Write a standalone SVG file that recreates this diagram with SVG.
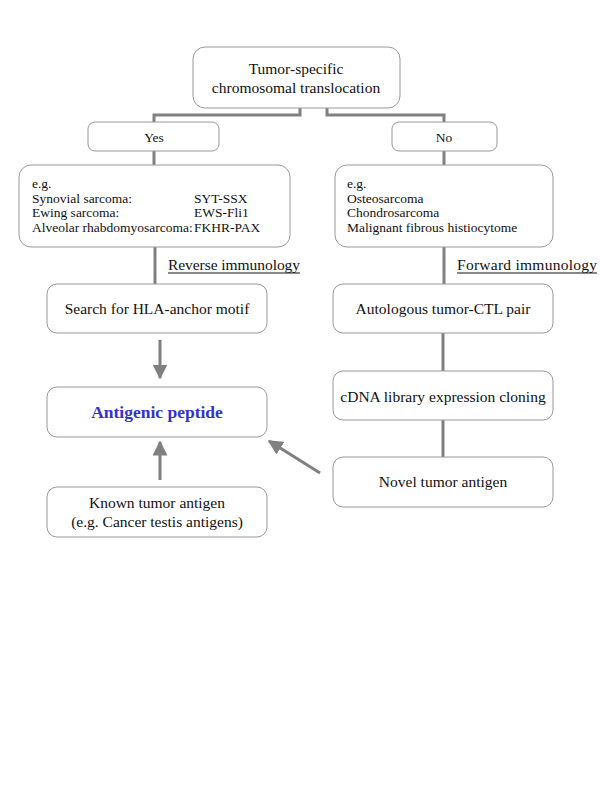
<svg xmlns="http://www.w3.org/2000/svg" width="600" height="800" viewBox="0 0 600 800">
<defs>
<style>
.box{fill:#fff;stroke:#999;stroke-width:1}
.t{font-family:"Liberation Serif","Times New Roman",serif;font-size:15.5px;fill:#111}
.s{font-family:"Liberation Serif","Times New Roman",serif;font-size:13.5px;fill:#111}
.c{text-anchor:middle}
.ln{fill:none;stroke:#808080;stroke-width:3}
.ar{fill:none;stroke:#808080;stroke-width:3}
</style>
<marker id="ah" viewBox="0 0 10 10" refX="9" refY="5" markerWidth="5" markerHeight="5" markerUnits="strokeWidth" orient="auto">
<path d="M0,0 L10,5 L0,10 z" fill="#808080"/>
</marker>
</defs>
<rect width="600" height="800" fill="#fff"/>
<g id="connectors">
<polyline class="ln" points="300,108 300,115 154,115 154,122"/>
<polyline class="ln" points="327,108 327,115 444,115 444,122"/>
<line class="ln" x1="154" y1="151" x2="154" y2="165"/>
<line class="ln" x1="444" y1="151" x2="444" y2="165"/>
<line class="ln" x1="155" y1="247" x2="155" y2="284"/>
<line class="ln" x1="444" y1="247" x2="444" y2="284"/>
<line class="ln" x1="443" y1="333" x2="443" y2="371"/>
<line class="ln" x1="443" y1="420" x2="443" y2="457"/>
<line class="ar" x1="160" y1="340" x2="160" y2="378" marker-end="url(#ah)"/>
<line class="ar" x1="160" y1="480" x2="160" y2="442" marker-end="url(#ah)"/>
<line class="ar" x1="320" y1="473" x2="269" y2="441" marker-end="url(#ah)"/>
</g>
<g id="top">
<rect class="box" x="193" y="47" width="207" height="61" rx="12"/>
<text class="t c" x="296" y="74">Tumor-specific</text>
<text class="t c" x="296" y="93">chromosomal translocation</text>
</g>
<g id="yes">
<rect class="box" x="88" y="122" width="131" height="29" rx="7"/>
<text class="s c" x="154" y="142">Yes</text>
</g>
<g id="no">
<rect class="box" x="392" y="122" width="105" height="29" rx="7"/>
<text class="s c" x="444" y="142">No</text>
</g>
<g id="examples-yes">
<rect class="box" x="19" y="165" width="271" height="82" rx="12"/>
<text class="s" x="32" y="188">e.g.</text>
<text class="s" x="32" y="203">Synovial sarcoma:</text>
<text class="s" x="32" y="217">Ewing sarcoma:</text>
<text class="s" x="32" y="232">Alveolar rhabdomyosarcoma:</text>
<text class="s" x="194" y="203">SYT-SSX</text>
<text class="s" x="194" y="217">EWS-Fli1</text>
<text class="s" x="194" y="232">FKHR-PAX</text>
</g>
<g id="examples-no">
<rect class="box" x="335" y="165" width="218" height="82" rx="12"/>
<text class="s" x="347" y="188">e.g.</text>
<text class="s" x="347" y="203">Osteosarcoma</text>
<text class="s" x="347" y="217">Chondrosarcoma</text>
<text class="s" x="347" y="232">Malignant fibrous histiocytome</text>
</g>
<g id="reverse-label">
<text class="t" x="168" y="270" textLength="132">Reverse immunology</text>
<line x1="168" y1="273" x2="300" y2="273" stroke="#111" stroke-width="1"/>
</g>
<g id="forward-label">
<text class="t" x="457" y="270" textLength="140">Forward immunology</text>
<line x1="457" y1="273" x2="597" y2="273" stroke="#111" stroke-width="1"/>
</g>
<g id="search">
<rect class="box" x="47" y="284" width="220" height="49" rx="10"/>
<text class="t c" x="157" y="314">Search for HLA-anchor motif</text>
</g>
<g id="antigenic">
<rect class="box" x="47" y="387" width="220" height="50" rx="10"/>
<text class="c" x="157" y="418" font-family="Liberation Serif, Times New Roman, serif" font-size="17.5" font-weight="bold" fill="#3333cc">Antigenic peptide</text>
</g>
<g id="known">
<rect class="box" x="47" y="487" width="220" height="50" rx="10"/>
<text class="t c" x="157" y="508">Known tumor antigen</text>
<text class="t c" x="157" y="527">(e.g. Cancer testis antigens)</text>
</g>
<g id="autologous">
<rect class="box" x="333" y="284" width="220" height="49" rx="10"/>
<text class="t c" x="443" y="314">Autologous tumor-CTL pair</text>
</g>
<g id="cdna">
<rect class="box" x="333" y="371" width="220" height="49" rx="10"/>
<text class="t c" x="443" y="402">cDNA library expression cloning</text>
</g>
<g id="novel">
<rect class="box" x="333" y="457" width="220" height="50" rx="10"/>
<text class="t c" x="443" y="487">Novel tumor antigen</text>
</g>
</svg>
